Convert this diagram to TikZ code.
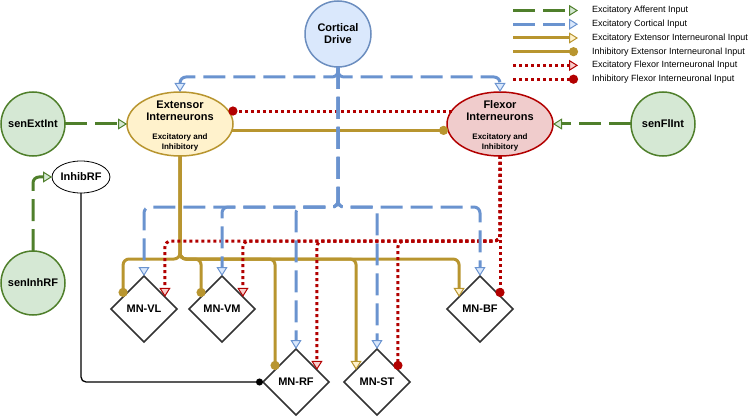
\documentclass[tikz,border=0pt]{standalone}
\usepackage{fontspec}
\setmainfont{Liberation Sans}
\usetikzlibrary{arrows.meta,shapes.geometric}
\definecolor{cblue}{HTML}{6A93CF}
\definecolor{cbluefill}{HTML}{DAE8FC}
\definecolor{cbluenode}{HTML}{6C8EBF}
\definecolor{cgreen}{HTML}{4F7F2B}
\definecolor{cgreenfill}{HTML}{D5E8D4}
\definecolor{cgold}{HTML}{B8952F}
\definecolor{cgoldfill}{HTML}{FFF2CC}
\definecolor{cred}{HTML}{B20000}
\definecolor{credfill}{HTML}{F8CECC}
\definecolor{cflexfill}{HTML}{F0CCCC}
\definecolor{cgray}{HTML}{333333}
\tikzset{
  conn/.style={line width=3pt, rounded corners=6pt},
  aff/.style={conn, draw=cgreen, dash pattern=on 22pt off 8pt,
    -{Triangle[width=11pt,length=9pt,line width=1pt,fill=cgreenfill]}},
  cortc/.style={conn, draw=cblue, dash pattern=on 22pt off 8pt,
    -{Triangle[width=11pt,length=9pt,line width=1pt,fill=cbluefill]}},
  extexc/.style={conn, draw=cgold,
    -{Triangle[width=11pt,length=9pt,line width=1pt,fill=cgoldfill]}},
  extinh/.style={conn, draw=cgold, -{Circle[length=9pt]}},
  flexc/.style={conn, draw=cred, dash pattern=on 3pt off 3pt,
    -{Triangle[width=11pt,length=9pt,line width=1pt,fill=credfill]}},
  flinh/.style={conn, draw=cred, dash pattern=on 3pt off 3pt, -{Circle[length=9pt]}},
  inhb/.style={line width=1.3pt, draw=black, rounded corners=5pt, -{Circle[length=7pt]}},
  bigfont/.style={font=\fontsize{11}{12}\selectfont\bfseries},
  sens/.style={circle, draw=cgreen, fill=cgreenfill, line width=1.5pt, minimum size=64pt,
    inner sep=0pt, outer sep=0pt, bigfont},
  cortnode/.style={circle, draw=cbluenode, fill=cbluefill, line width=1.5pt, minimum size=66pt,
    inner sep=0pt, outer sep=0pt, bigfont, align=center},
  extnode/.style={ellipse, draw=cgold, fill=cgoldfill, line width=1.5pt, minimum width=106pt,
    minimum height=64pt, inner sep=0pt, outer sep=0pt},
  flxnode/.style={ellipse, draw=cred, fill=cflexfill, line width=1.5pt, minimum width=106pt,
    minimum height=64pt, inner sep=0pt, outer sep=0pt},
  inhnode/.style={ellipse, draw=black, fill=white, line width=0.8pt, minimum width=46pt,
    minimum height=32pt, inner sep=0pt, outer sep=0pt, bigfont},
  mn/.style={diamond, draw=cgray, fill=white, line width=1.6pt, minimum width=66pt,
    minimum height=66pt, inner sep=0pt, outer sep=0pt, bigfont},
  lbl/.style={bigfont, align=center, inner sep=0pt},
  sublbl/.style={font=\fontsize{8}{10}\selectfont\bfseries, align=center, inner sep=0pt},
  legtext/.style={font=\fontsize{9}{10}\selectfont, anchor=west, inner sep=0pt}
}
\begin{document}
\begin{tikzpicture}[x=1pt,y=-1pt]
\useasboundingbox (0,0) rectangle (750,417);
% nodes
\node[cortnode] (cort) at (338,34) {Cortical\\Drive};
\node[extnode] (ext) at (180,124) {};
\node[lbl] (extlbl) at ([yshift=13pt]ext.center) {Extensor\\Interneurons};
\node[sublbl] (extsub) at ([yshift=-18pt]ext.center) {Excitatory and\\Inhibitory};
\node[flxnode] (flex) at (500,124) {};
\node[lbl] (flexlbl) at ([yshift=13pt]flex.center) {Flexor\\Interneurons};
\node[sublbl] (flexsub) at ([yshift=-18pt]flex.center) {Excitatory and\\Inhibitory};
\node[sens] (sext) at (33,124) {senExtInt};
\node[sens] (sflx) at (663,124) {senFlInt};
\node[sens] (sinh) at (33,283) {senInhRF};
\node[inhnode] (inh) at (81,177) {InhibRF};
\node[mn] (vl) at (144,309) {MN-VL};
\node[mn] (vm) at (222,309) {MN-VM};
\node[mn] (rf) at (296,382) {MN-RF};
\node[mn] (st) at (377,382) {MN-ST};
\node[mn] (bf) at (480,309) {MN-BF};
% bus levels
\coordinate (tbus) at (0,77);
\coordinate (bbus) at (0,207);
\coordinate (gbus) at (0,259);
\coordinate (rbus) at (0,241);
% gold (extensor) connections
\draw[extinh] (ext.south) |- (gbus -| vl.150) -- (vl.150);
\draw[extinh] (ext.south) |- (gbus -| vm.150) -- (vm.150);
\draw[extinh] (ext.south) |- (gbus -| rf.150) -- (rf.150);
\draw[extexc] (ext.south) |- (gbus -| st.150) -- (st.150);
\draw[extexc] (ext.south) |- (gbus -| bf.150) -- (bf.150);
\draw[extinh] (ext.-7) -- (flex.187);
% red (flexor) connections
\draw[flexc] (flex.south) |- (rbus -| vl.30) -- (vl.30);
\draw[flexc] (flex.south) |- (rbus -| vm.30) -- (vm.30);
\draw[flexc] (flex.south) |- (rbus -| rf.30) -- (rf.30);
\draw[flinh] (flex.south) |- (rbus -| st.30) -- (st.30);
\draw[flinh] (flex.south) -- (flex.south |- bf.30);
\draw[flinh] (flex.165) -- (ext.15);
% blue (cortical) connections
\draw[cortc] (cort.south) |- (tbus -| ext.north) -- (ext.north);
\draw[cortc] (cort.south) |- (tbus -| flex.north) -- (flex.north);
\draw[cortc] (cort.south) |- (bbus -| vl.north) -- (vl.north);
\draw[cortc] (cort.south) |- (bbus -| vm.north) -- (vm.north);
\draw[cortc] (cort.south) |- (bbus -| rf.north) -- (rf.north);
\draw[cortc] (cort.south) |- (bbus -| st.north) -- (st.north);
\draw[cortc] (cort.south) |- (bbus -| bf.north) -- (bf.north);
% green (afferent) connections
\draw[aff] (sext) -- (ext);
\draw[aff] (sflx) -- (flex);
\draw[aff] (sinh.north) |- (inh.west);
% black
\draw[inhb] (inh.south) |- (rf.west);
% legend
\coordinate (la1) at (513,10.5);  \coordinate (lb1) at (578,10.5);
\coordinate (la2) at (513,24.2);  \coordinate (lb2) at (578,24.2);
\coordinate (la3) at (513,38);    \coordinate (lb3) at (578,38);
\coordinate (la4) at (513,51.7);  \coordinate (lb4) at (578,51.7);
\coordinate (la5) at (513,65.4);  \coordinate (lb5) at (578,65.4);
\coordinate (la6) at (513,79.2);  \coordinate (lb6) at (578,79.2);
\draw[aff] (la1) -- (lb1);
\draw[cortc] (la2) -- (lb2);
\draw[extexc] (la3) -- (lb3);
\draw[extinh] (la4) -- (lb4);
\draw[flexc] (la5) -- (lb5);
\draw[flinh] (la6) -- (lb6);
\node[legtext] (t1) at (592,10.5) {Excitatory Afferent Input};
\node[legtext] (t2) at (592,24.2) {Excitatory Cortical Input};
\node[legtext] (t3) at (592,38) {Excitatory Extensor Interneuronal Input};
\node[legtext] (t4) at (592,51.7) {Inhibitory Extensor Interneuronal Input};
\node[legtext] (t5) at (592,65.4) {Excitatory Flexor Interneuronal Input};
\node[legtext] (t6) at (592,79.2) {Inhibitory Flexor Interneuronal Input};
\end{tikzpicture}
\end{document}
